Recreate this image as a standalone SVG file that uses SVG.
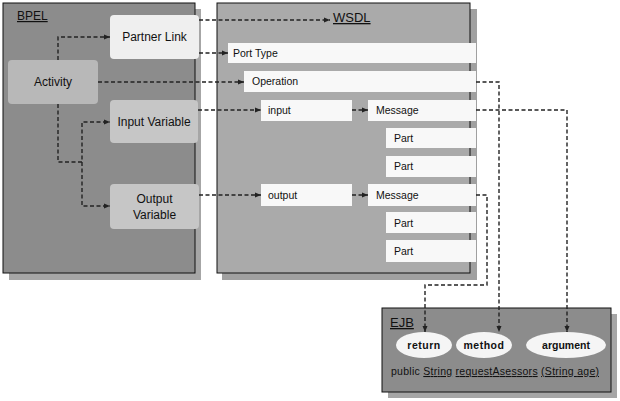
<svg xmlns="http://www.w3.org/2000/svg" width="620" height="401" viewBox="0 0 620 401">
<style>
text{font-family:"Liberation Sans",Arial,sans-serif;fill:#111}
.c{stroke:#222;stroke-width:1.4;stroke-dasharray:4,2.5;fill:none}
.bar{fill:#f8f8f8}
.t10{font-size:10.5px}
.t12{font-size:12px}
.u{text-decoration:underline}
</style>
<defs>
<marker id="a" viewBox="0 0 6 6" refX="6" refY="3" markerWidth="6" markerHeight="6" markerUnits="userSpaceOnUse" orient="auto"><path d="M0,0.5 L6,3 L0,5.5z" fill="#222"/></marker>
</defs>
<rect width="620" height="401" fill="#fff"/>
<g id="bpel">
<rect x="9" y="9" width="192" height="271" fill="#a6a6a6"/>
<rect x="3" y="3" width="192" height="270" fill="#8c8c8c" stroke="#111" stroke-width="1"/>
<text x="17" y="20" class="t12 u">BPEL</text>
</g>
<g id="wsdl">
<rect x="222" y="9" width="255" height="271" fill="#a0a0a0"/>
<rect x="217" y="3" width="253" height="270" fill="#aaaaaa" stroke="#111" stroke-width="1"/>
<text x="333" y="22" font-size="13" class="u">WSDL</text>
</g>
<g id="ejb">
<rect x="388" y="314" width="229" height="84" fill="#a6a6a6"/>
<rect x="382" y="308" width="229" height="84" fill="#8c8c8c" stroke="#111" stroke-width="1"/>
<text x="390" y="327" font-size="13" class="u">EJB</text>
<text x="391" y="375" font-size="10.5" textLength="208" lengthAdjust="spacing">public <tspan class="u">String</tspan> <tspan text-decoration="underline" text-decoration-style="dotted">requestAsessors</tspan> <tspan class="u">(String age)</tspan></text>
</g>
<g id="partner-link"><rect x="110" y="15" width="89" height="44" rx="4" fill="#efefef"/><text x="154.5" y="41" class="t12" text-anchor="middle">Partner Link</text></g>
<g id="activity"><rect x="8" y="60" width="90" height="44" rx="4" fill="#b8b8b8"/><text x="53" y="86" class="t12" text-anchor="middle">Activity</text></g>
<g id="input-variable"><rect x="110" y="100" width="88" height="43" rx="4" fill="#c6c6c6"/><text x="154" y="126" class="t12" text-anchor="middle">Input Variable</text></g>
<g id="output-variable"><rect x="110" y="184" width="89" height="45" rx="4" fill="#c6c6c6"/><text x="154.5" y="203" class="t12" text-anchor="middle">Output</text><text x="154.5" y="219" class="t12" text-anchor="middle">Variable</text></g>
<g id="port-type"><rect x="228" y="43" width="248" height="20" class="bar"/><text x="233" y="57" class="t10">Port Type</text></g>
<g id="operation"><rect x="244" y="71" width="232" height="21" class="bar"/><text x="252" y="85" class="t10">Operation</text></g>
<g id="input"><rect x="261" y="100" width="91" height="21" class="bar"/><text x="268" y="114" class="t10">input</text></g>
<g id="input-message"><rect x="368" y="100" width="108" height="21" class="bar"/><text x="376" y="114" class="t10">Message</text></g>
<g id="input-part1"><rect x="386" y="128" width="90" height="20" class="bar"/><text x="394" y="142" class="t10">Part</text></g>
<g id="input-part2"><rect x="386" y="156" width="90" height="21" class="bar"/><text x="394" y="170" class="t10">Part</text></g>
<g id="output"><rect x="261" y="184" width="91" height="22" class="bar"/><text x="268" y="199" class="t10">output</text></g>
<g id="output-message"><rect x="368" y="184" width="108" height="22" class="bar"/><text x="376" y="199" class="t10">Message</text></g>
<g id="output-part1"><rect x="386" y="212" width="90" height="21" class="bar"/><text x="394" y="227" class="t10">Part</text></g>
<g id="output-part2"><rect x="386" y="240" width="90" height="22" class="bar"/><text x="394" y="255" class="t10">Part</text></g>
<g id="return"><ellipse cx="424" cy="345" rx="28" ry="13" fill="#f5f5f5"/><text x="424" y="349" font-size="10.5" text-anchor="middle" font-weight="bold" letter-spacing="0.5">return</text></g>
<g id="method"><ellipse cx="484" cy="345" rx="28" ry="13" fill="#f5f5f5"/><text x="484" y="349" font-size="10.5" text-anchor="middle" font-weight="bold" letter-spacing="0.5">method</text></g>
<g id="argument"><ellipse cx="566" cy="345" rx="40" ry="13" fill="#f5f5f5"/><text x="566" y="349" font-size="10.5" text-anchor="middle" font-weight="bold">argument</text></g>
<g id="connectors">
<path class="c" d="M58,60 V37 H110" marker-end="url(#a)"/>
<path class="c" d="M58,104 V162 H82 V122 H110" marker-end="url(#a)"/>
<path class="c" d="M82,162 V206 H110" marker-end="url(#a)"/>
<path class="c" d="M199,20 H330" marker-end="url(#a)"/>
<path class="c" d="M199,53 H228" marker-end="url(#a)"/>
<path class="c" d="M98,82 H244" marker-end="url(#a)"/>
<path class="c" d="M198,110 H261" marker-end="url(#a)"/>
<path class="c" d="M199,195 H261" marker-end="url(#a)"/>
<path class="c" d="M352,110 H368" marker-end="url(#a)"/>
<path class="c" d="M352,195 H368" marker-end="url(#a)"/>
<path class="c" d="M476,82 H499 V332" marker-end="url(#a)"/>
<path class="c" d="M476,110 H567 V332" marker-end="url(#a)"/>
<path class="c" d="M476,195 H487 V285 H425 V332" marker-end="url(#a)"/>
</g>
</svg>
